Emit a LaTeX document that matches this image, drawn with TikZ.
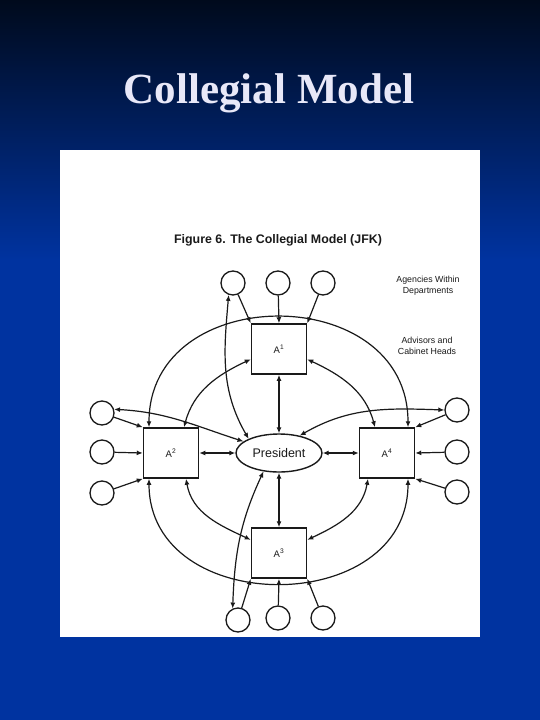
\documentclass[tikz,border=0pt]{standalone}
\usepackage{fontspec}
\setmainfont{Liberation Serif}
\setsansfont{Liberation Sans}
\usetikzlibrary{arrows.meta,shapes.geometric}

\definecolor{bgtop}{HTML}{000A1C}
\definecolor{bgblue}{HTML}{0033A0}
\definecolor{ink}{HTML}{1A1A1A}
\definecolor{titlecol}{HTML}{E8E8F8}

\tikzset{
  agency/.style={circle,draw=ink,line width=1.3pt,minimum size=24pt,inner sep=0pt},
  advisor/.style={rectangle,draw=ink,line width=1.5pt,minimum width=55pt,minimum height=50pt,
    text=ink,font=\sffamily\fontsize{9.5}{11}\selectfont},
  pres/.style={ellipse,draw=ink,line width=1.4pt,minimum width=86pt,minimum height=38pt,
    inner sep=0pt,text=ink,font=\sffamily\fontsize{12.5}{14}\selectfont},
  feed/.style={-{Latex[length=6pt,width=5pt]},draw=ink,line width=1.2pt},
  both/.style={{Latex[length=6pt,width=5pt]}-{Latex[length=6pt,width=5pt]},draw=ink,line width=1.2pt},
  note/.style={align=center,text=ink,font=\sffamily\fontsize{8.8}{11}\selectfont}
}

\begin{document}
\begin{tikzpicture}[x=1pt,y=-1pt]
\useasboundingbox (0,0) rectangle (540,720);

% slide background and title
\shade[top color=bgtop,bottom color=bgblue] (0,0) rectangle (540,260);
\fill[bgblue] (0,259) rectangle (540,720);
\node[anchor=base,text=titlecol,font=\bfseries\fontsize{43}{50}\selectfont] (title) at (269,103) {Collegial Model};
\fill[white] (60,150) rectangle (480,637);

\node[text=ink,font=\sffamily\bfseries\fontsize{12.4}{14}\selectfont] (caption) at (278,240) {Figure 6. The Collegial Model (JFK)};
\node[note] (agencies) at (428,286) {Agencies Within\\Departments};
\node[note] (advisors) at (427,346) {Advisors and\\Cabinet Heads};

% advisors and cabinet heads
\node[advisor] (a1) at (279,349) {A\textsuperscript{1}};
\node[advisor] (a2) at (171,453) {A\textsuperscript{2}};
\node[advisor] (a3) at (279,553) {A\textsuperscript{3}};
\node[advisor] (a4) at (387,453) {A\textsuperscript{4}};
\node[pres] (P) at (279,453) {President};

% agencies within departments
\node[agency] (t1) at (233,283) {};
\node[agency] (t2) at (278,283) {};
\node[agency] (t3) at (323,283) {};
\node[agency] (l1) at (102,413) {};
\node[agency] (l2) at (102,452) {};
\node[agency] (l3) at (102,493) {};
\node[agency] (r1) at (457,410) {};
\node[agency] (r2) at (457,452) {};
\node[agency] (r3) at (457,492) {};
\node[agency] (b1) at (238,620) {};
\node[agency] (b2) at (278,618) {};
\node[agency] (b3) at (323,618) {};

\draw[feed] (t1) -- (a1.north west);
\draw[feed] (t2) -- (a1.north);
\draw[feed] (t3) -- (a1.north east);
\draw[feed] (l1) -- (a2.north west);
\draw[feed] (l2) -- (a2.west);
\draw[feed] (l3) -- (a2.south west);
\draw[feed] (r1) -- (a4.north east);
\draw[feed] (r2) -- (a4.east);
\draw[feed] (r3) -- (a4.south east);
\draw[feed] (b1) -- (a3.south west);
\draw[feed] (b2) -- (a3.south);
\draw[feed] (b3) -- (a3.south east);

% president and advisors
\draw[both] (a1) -- (P);
\draw[both] (a2) -- (P);
\draw[both] (a4) -- (P);
\draw[both] (a3) -- (P);

\draw[both] (a1.200) to[out=205,in=75] ([xshift=13pt]a2.north);
\draw[both] (a1.340) to[out=-25,in=105] ([xshift=-12pt]a4.north);
\draw[both] ([xshift=15pt]a2.south) to[out=-80,in=155] (a3.155);
\draw[both] ([xshift=-19pt]a4.south) to[out=-100,in=25] (a3.25);

\draw[both] ([xshift=-22pt]a2.north) to[out=90,in=90,looseness=1.45] ([xshift=21pt]a4.north);
\draw[both] ([xshift=-22pt]a2.south) to[out=-90,in=-90,looseness=1.38] ([xshift=21pt]a4.south);

% president reaching agencies directly
\draw[both] (t1.-110) to[out=-95,in=120] (P.155);
\draw[both] (b1.115) to[out=88,in=-115] (P.-130);
\draw[both] (l1.17) to[out=-3,in=162] (P.162);
\draw[both] (r1.180) to[out=178,in=30] (P.40);
\end{tikzpicture}
\end{document}
